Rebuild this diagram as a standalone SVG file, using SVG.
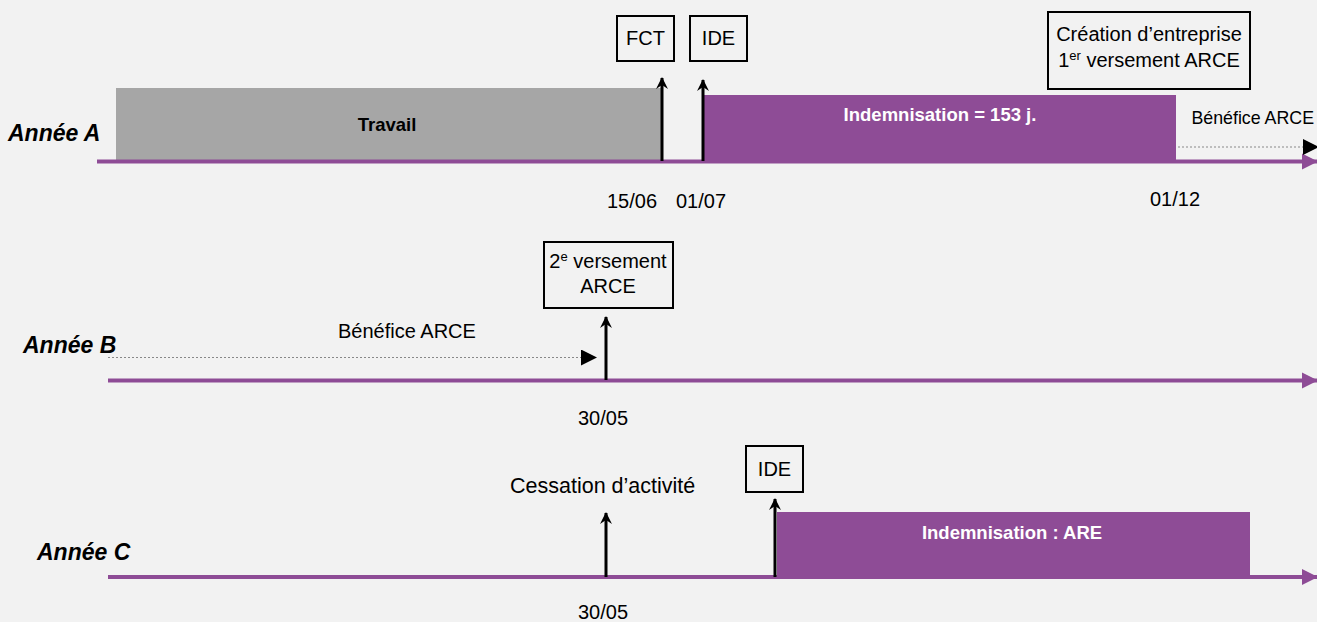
<svg xmlns="http://www.w3.org/2000/svg" width="1317" height="622" viewBox="0 0 1317 622">
<style>
text{font-family:"Liberation Sans",Arial,sans-serif;fill:#000}
.lbl{font-size:20px}
.yr{font-size:23px;font-weight:bold;font-style:italic}
.bw{font-size:18.5px;font-weight:bold;fill:#fff}
.box{fill:none;stroke:#000;stroke-width:2}
.axis{stroke:#8e4c96;stroke-width:4;fill:none}
.up{stroke:#000;stroke-width:3;fill:none}
.dot{stroke:#888;stroke-width:1;stroke-dasharray:2 2;fill:none}
</style>
<defs>
<marker id="ah" markerUnits="userSpaceOnUse" markerWidth="16" markerHeight="18" refX="15" refY="8" orient="auto" viewBox="0 0 16 16">
<path d="M0,0 L16,8 L0,16 z" fill="#8e4c96"/>
</marker>
<marker id="bh" markerUnits="userSpaceOnUse" markerWidth="16" markerHeight="16" refX="15" refY="8" orient="auto" viewBox="0 0 16 16">
<path d="M0,0 L16,8 L0,16 z" fill="#000"/>
</marker>
<marker id="sh" markerUnits="userSpaceOnUse" markerWidth="12" markerHeight="12" refX="11" refY="6" orient="auto" viewBox="0 0 12 12">
<path d="M0,0 L12,6 L0,12 L4,6 z" fill="#000"/>
</marker>
</defs>
<rect width="1317" height="622" fill="#f2f2f2"/>

<g id="year-a">
<text class="yr" x="8" y="141">Année A</text>
</g>
<g id="travail">
<rect x="116" y="88" width="546" height="73" fill="#a6a6a6"/>
<text x="387" y="131" font-size="18.5" font-weight="bold" text-anchor="middle">Travail</text>
</g>
<g id="indem-a">
<rect x="703" y="95" width="473" height="66" fill="#8e4c96"/>
<text class="bw" x="940" y="121" text-anchor="middle">Indemnisation = 153 j.</text>
</g>
<g id="fct">
<rect class="box" x="617" y="16" width="57" height="45"/>
<text class="lbl" x="645.5" y="45" text-anchor="middle">FCT</text>
</g>
<g id="ide-a">
<rect class="box" x="690" y="16" width="57" height="45"/>
<text class="lbl" x="718.5" y="45" text-anchor="middle">IDE</text>
</g>
<g id="creation">
<rect class="box" x="1048" y="12" width="202" height="77"/>
<text class="lbl" x="1149" y="41" text-anchor="middle">Création d’entreprise</text>
<text class="lbl" x="1149" y="67" text-anchor="middle">1<tspan font-size="13" dy="-7">er</tspan><tspan dy="7"> versement ARCE</tspan></text>
</g>
<g id="dates-a">
<text class="lbl" x="607" y="208">15/06</text>
<text class="lbl" x="676" y="208">01/07</text>
<text class="lbl" x="1150" y="206">01/12</text>
<text x="1314" y="124" font-size="17.8" text-anchor="end">Bénéfice ARCE</text>
</g>

<g id="year-b">
<text class="yr" x="23" y="353">Année B</text>
</g>
<g id="versement2">
<rect class="box" x="544" y="242" width="129" height="66"/>
<text class="lbl" x="608" y="268" text-anchor="middle">2<tspan font-size="13" dy="-7">e</tspan><tspan dy="7"> versement</tspan></text>
<text class="lbl" x="608" y="293" text-anchor="middle">ARCE</text>
</g>
<g id="labels-b">
<text class="lbl" x="338" y="338">Bénéfice ARCE</text>
<text class="lbl" x="578" y="425">30/05</text>
</g>

<g id="year-c">
<text class="yr" x="37" y="560">Année C</text>
</g>
<g id="cessation">
<text x="510" y="493" font-size="21.5">Cessation d’activité</text>
<text class="lbl" x="578" y="619">30/05</text>
</g>
<g id="ide-c">
<rect class="box" x="746" y="446" width="57" height="46"/>
<text class="lbl" x="774.5" y="476" text-anchor="middle">IDE</text>
</g>
<g id="indem-c">
<rect x="777" y="512" width="473" height="65" fill="#8e4c96"/>
<text class="bw" x="1012" y="539" text-anchor="middle">Indemnisation : ARE</text>
</g>

<g id="connectors">
<line class="axis" x1="97" y1="161.5" x2="1317" y2="161.5" marker-end="url(#ah)"/>
<line class="axis" x1="108" y1="380.5" x2="1317" y2="380.5" marker-end="url(#ah)"/>
<line class="axis" x1="108" y1="577" x2="1317" y2="577" marker-end="url(#ah)"/>
<line class="dot" x1="1178" y1="147" x2="1318" y2="147" marker-end="url(#bh)"/>
<line class="dot" x1="108" y1="357.5" x2="596" y2="357.5" marker-end="url(#bh)"/>
<line class="up" x1="662" y1="161" x2="662" y2="78" marker-end="url(#sh)"/>
<line class="up" x1="703" y1="161" x2="703" y2="80" marker-end="url(#sh)"/>
<line class="up" x1="606" y1="380" x2="606" y2="317" marker-end="url(#sh)"/>
<line class="up" x1="606" y1="577" x2="606" y2="513" marker-end="url(#sh)"/>
<line class="up" x1="775" y1="577" x2="775" y2="499" marker-end="url(#sh)"/>
</g>
</svg>
